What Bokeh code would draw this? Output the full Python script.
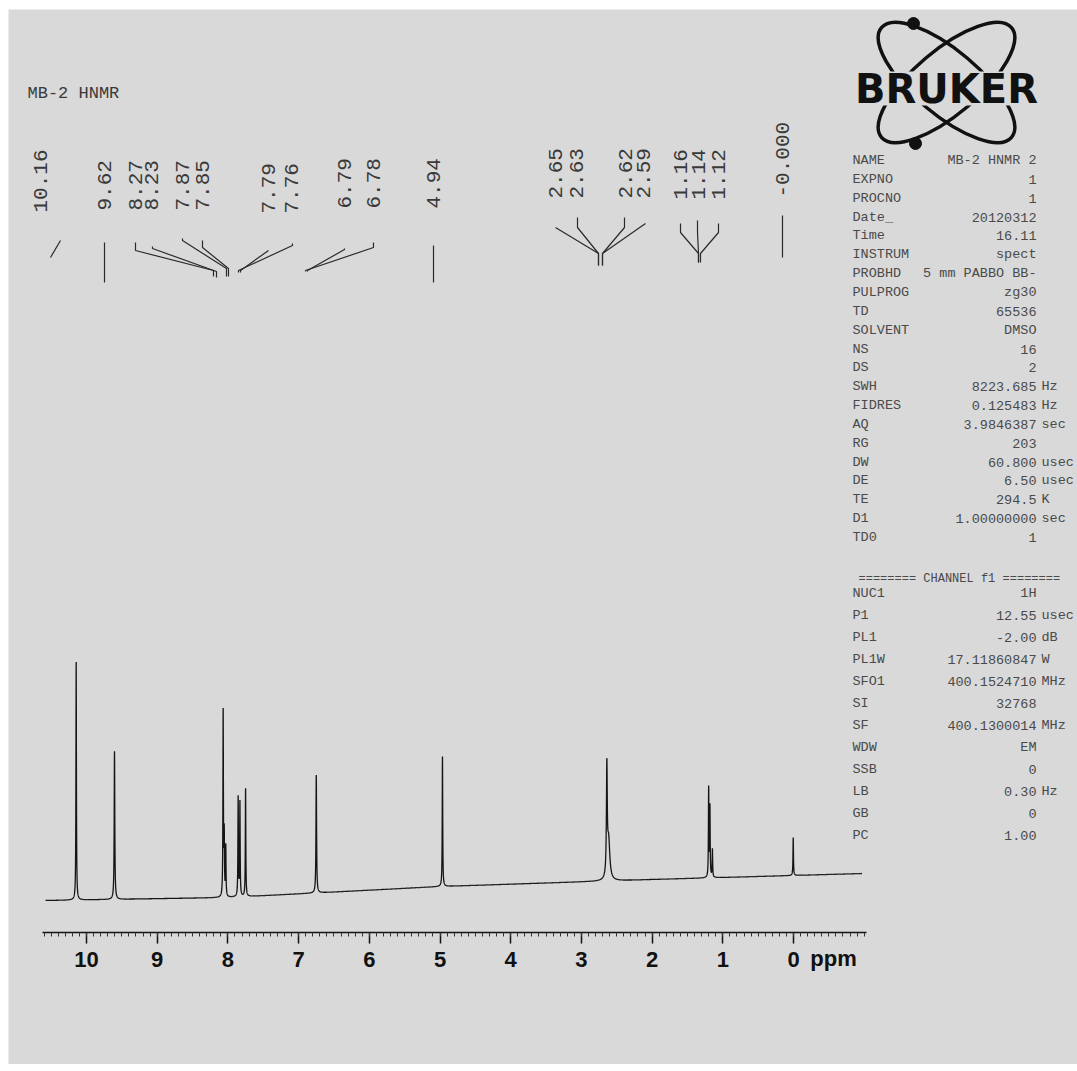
import numpy as np
from bokeh.plotting import figure
from bokeh.models import Range1d, LinearAxis, FixedTicker
from bokeh.core.properties import value
from bokeh.embed import file_html
from bokeh.resources import INLINE

# ---------------- data ----------------
peak_ppm    = [10.146, 9.604, 8.067, 8.052, 8.030, 7.855, 7.830, 7.750, 6.750, 4.965, 2.640, 2.615,
               1.200, 1.182, 1.147, 0.004]
peak_height = [238,    148,   185,   60,    50,    99,    94,    108,   118,   130,   107,   40,
               89,     70,    28,    38]
peak_hwhm   = [0.004,  0.005, 0.004, 0.004, 0.004, 0.004, 0.004, 0.004, 0.005, 0.004, 0.007, 0.020,
               0.004,  0.004, 0.004, 0.004]

baseline_ppm   = [10.58, 8.0, 5.0, 2.0, -0.97]
baseline_level = [0, 3, 14, 21, 27]

label_text = ["10.16", "9.62", "8.27", "8.23", "7.87", "7.85", "7.79", "7.76", "6.79", "6.78",
              "4.94", "2.65", "2.63", "2.62", "2.59", "1.16", "1.14", "1.12", "-0.000"]

axis_ticks = list(range(0, 11))
axis_unit = "ppm"

title_text = "MB-2 HNMR"

param_names = ["NAME", "EXPNO", "PROCNO", "Date_", "Time", "INSTRUM", "PROBHD", "PULPROG", "TD",
               "SOLVENT", "NS", "DS", "SWH", "FIDRES", "AQ", "RG", "DW", "DE", "TE", "D1", "TD0"]
param_values = ["MB-2 HNMR 2", "1", "1", "20120312", "16.11", "spect", "5 mm PABBO BB-", "zg30", "65536",
                "DMSO", "16", "2", "8223.685", "0.125483", "3.9846387", "203", "60.800", "6.50", "294.5",
                "1.00000000", "1"]
param_units = ["", "", "", "", "", "", "", "", "", "", "", "", "Hz", "Hz", "sec", "", "usec", "usec", "K", "sec", ""]

channel_title = "======== CHANNEL f1 ========"
chan_names = ["NUC1", "P1", "PL1", "PL1W", "SFO1", "SI", "SF", "WDW", "SSB", "LB", "GB", "PC"]
chan_values = ["1H", "12.55", "-2.00", "17.11860847", "400.1524710", "32768", "400.1300014", "EM",
               "0", "0.30", "0", "1.00"]
chan_units = ["", "usec", "dB", "W", "MHz", "", "MHz", "", "", "Hz", "", ""]

# ---------------- layout helpers (page pixels -> data) ----------------
PX10, PX_PER_PPM, BASE_PY = 86.0, 70.7, 900.0
ML, MT, MB = 8, 9, 7
W, H = 1077 - ML, 1071 - MT - MB
AXIS_PY = 932


def X(px):
    return 10.0 - (px - PX10) / PX_PER_PPM


def Y(py):
    return BASE_PY - py


# ---------------- spectrum ----------------
grid = np.arange(10.58, -0.97, -0.0004)
grid = np.sort(np.concatenate([grid, np.array(peak_ppm)]))[::-1]
spec = np.interp(grid, baseline_ppm[::-1], baseline_level[::-1])
for c, h, g in zip(peak_ppm, peak_height, peak_hwhm):
    spec = spec + h * g * g / ((grid - c) ** 2 + g * g)

p = figure(width=W, height=H, x_range=Range1d(X(ML), X(1077)), y_range=Range1d(Y(MT + H), Y(MT)),
           x_axis_type=None, y_axis_type=None, toolbar_location=None, output_backend="svg",
           min_border_left=0, min_border_right=0, min_border_top=0, min_border_bottom=0,
           margin=(MT, 0, MB, ML))
p.grid.visible = False
p.outline_line_color = None
p.background_fill_color = "#d9d9d9"
p.border_fill_color = "#d9d9d9"

p.line(grid, spec, line_color="#151515", line_width=1.3)

# ---------------- axis ----------------
minor = [round(v, 1) for v in np.arange(-1.0, 10.61, 0.1)]
ax = LinearAxis(ticker=FixedTicker(ticks=axis_ticks, minor_ticks=minor), bounds=(X(866), X(42)),
                fixed_location=Y(AXIS_PY))
ax.axis_line_color = "#111111"
ax.axis_line_width = 1.5
ax.major_tick_line_color = "#111111"
ax.major_tick_line_width = 1.5
ax.major_tick_out = 11
ax.major_tick_in = 0
ax.minor_tick_line_color = "#333333"
ax.minor_tick_out = 4
ax.minor_tick_in = 0
ax.major_label_text_font = "Liberation Sans"
ax.major_label_text_font_size = "22px"
ax.major_label_text_font_style = "bold"
ax.major_label_text_color = "#111111"
ax.major_label_standoff = 8
p.add_layout(ax, "below")

p.text([X(833)], [Y(958)], text=[axis_unit], text_align="center", text_baseline="middle",
       text_font=value("Liberation Sans"), text_font_size="22px", text_font_style="bold",
       text_color="#111111")

# ---------------- peak labels and leader lines ----------------
label_px = [40, 104, 135, 151, 182, 202, 268, 291, 344, 373, 433, 555, 576, 625, 643, 680, 698, 718, 782]
label_bottom_py = [212, 210, 210, 210, 210, 210, 213, 213, 208, 208, 208, 198, 198, 198, 198, 199, 199, 199, 197]

leader_px = [[50, 60], [104, 104], [135, 135, 213, 213], [152, 152, 216, 216], [182, 182, 226, 226],
             [202, 202, 228, 228], [268, 268, 240, 240], [292, 292, 238, 238], [344, 344, 307, 307],
             [373, 373, 305, 305], [433, 433], [555, 555, 598, 598], [577, 577, 598, 598],
             [624, 624, 602, 602], [645, 645, 602, 602], [680, 680, 698, 698], [697, 697, 698, 698],
             [718, 718, 700, 700], [782, 782]]
leader_py = [[257, 240], [242, 282], [242, 250, 270, 276], [246, 248, 271, 277], [238, 240, 268, 276],
             [240, 247, 268, 276], [250, 250, 270, 272], [243, 245, 270, 272], [248, 249, 270, 271],
             [242, 247, 270, 271], [245, 282], [227, 227, 253, 265], [217, 227, 253, 265],
             [217, 227, 253, 265], [223, 223, 253, 265], [223, 232, 253, 262], [220, 232, 253, 262],
             [223, 232, 253, 262], [215, 257]]

p.multi_line([[X(v) for v in xs] for xs in leader_px], [[Y(v) for v in ys] for ys in leader_py],
             line_color="#2a2a2a", line_width=1.2)

p.text([X(v) for v in label_px], [Y(v) for v in label_bottom_py], text=label_text, angle=np.pi / 2,
       text_align="left", text_baseline="middle", text_font=value("Liberation Mono"),
       text_font_size="21px", text_color="#3a3a3a")

p.text([X(27)], [Y(93)], text=[title_text], text_align="left", text_baseline="middle",
       text_font=value("Liberation Mono"), text_font_size="17px", text_color="#3a3a3a")

# ---------------- parameter table ----------------
row1 = list(np.linspace(160, 537, len(param_names)))
row2 = list(np.linspace(593, 835, len(chan_names)))
names = param_names + chan_names
vals = param_values + chan_values
units = param_units + chan_units
rows = row1 + row2
tstyle = dict(text_baseline="middle", text_font=value("Liberation Mono"), text_font_size="13.5px",
              text_color="#4a4a4a")
p.text([X(852)] * len(names), [Y(v) for v in rows], text=names, text_align="left", **tstyle)
p.text([X(1036)] * len(vals), [Y(v) for v in rows], text=vals, text_align="right", **tstyle)
p.text([X(1041)] * len(units), [Y(v) for v in rows], text=units, text_align="left", **tstyle)
p.text([X(858)], [Y(578)], text=[channel_title], text_align="left", text_baseline="middle",
       text_font=value("Liberation Mono"), text_font_size="12px", text_color="#4a4a4a")

# ---------------- Bruker logo ----------------
p.ellipse(x=[X(946), X(946)], y=[Y(82), Y(82)], width=170, height=64, angle=[0.70, -0.70],
          width_units="screen", height_units="screen", fill_color=None, line_color="#111111", line_width=3.5)
p.rect(x=[X(946)], y=[Y(88)], width=196, height=34, width_units="screen", height_units="screen",
       fill_color="#d9d9d9", line_color=None)
p.scatter(x=[X(913), X(915)], y=[Y(23), Y(143)], size=12, color="#111111")
p.text([X(946)], [Y(88)], text=["BRUKER"], text_align="center", text_baseline="middle",
       text_font=value("DejaVu Sans"), text_font_style="bold", text_font_size="40px",
       text_color="#111111")

open("out.html", "w").write(file_html(p, INLINE))
